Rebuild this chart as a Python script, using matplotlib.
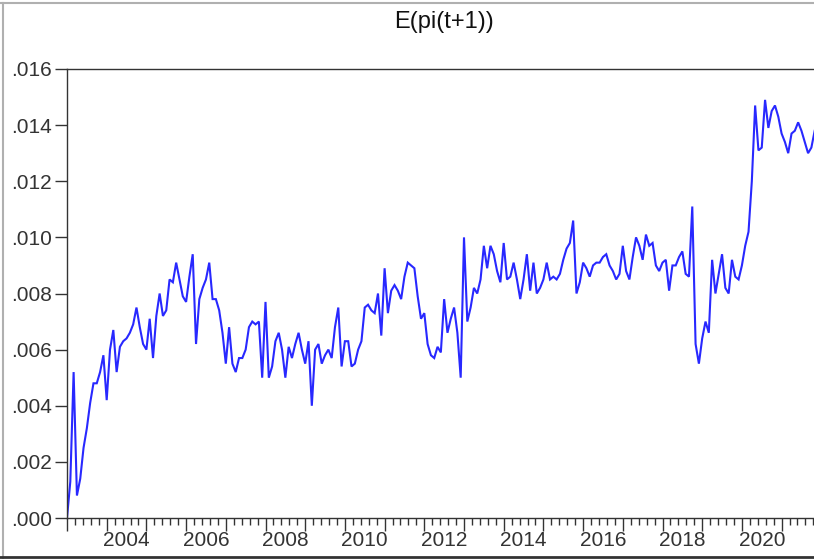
import numpy as np
import matplotlib
matplotlib.use("Agg")
import matplotlib.pyplot as plt
from matplotlib.lines import Line2D
from matplotlib.ticker import FixedLocator, MultipleLocator, FuncFormatter

# ---- data (monthly, starting 2003M01) ----
start_year = 2003
values = [
    0.0000, 0.0013, 0.0052, 0.0008, 0.0014, 0.0025, 0.0032, 0.0041, 0.0048, 0.0048, 0.0052, 0.0058,
    0.0042, 0.0060, 0.0067, 0.0052, 0.0061, 0.0063, 0.0064, 0.0066, 0.0069, 0.0075, 0.0068, 0.0062,
    0.0060, 0.0071, 0.0057, 0.0072, 0.0080, 0.0072, 0.0074, 0.0085, 0.0084, 0.0091, 0.0085, 0.0079,
    0.0077, 0.0086, 0.0094, 0.0062, 0.0078, 0.0082, 0.0085, 0.0091, 0.0078, 0.0078, 0.0074, 0.0066,
    0.0055, 0.0068, 0.0055, 0.0052, 0.0057, 0.0057, 0.0060, 0.0068, 0.0070, 0.0069, 0.0070, 0.0050,
    0.0077, 0.0050, 0.0054, 0.0063, 0.0066, 0.0060, 0.0050, 0.0061, 0.0057, 0.0062, 0.0066, 0.0060,
    0.0055, 0.0063, 0.0040, 0.0060, 0.0062, 0.0055, 0.0058, 0.0060, 0.0057, 0.0068, 0.0075, 0.0054,
    0.0063, 0.0063, 0.0054, 0.0055, 0.0060, 0.0063, 0.0075, 0.0076, 0.0074, 0.0073, 0.0080, 0.0065,
    0.0089, 0.0073, 0.0081, 0.0083, 0.0081, 0.0078, 0.0086, 0.0091, 0.0090, 0.0089, 0.0079, 0.0071,
    0.0073, 0.0062, 0.0058, 0.0057, 0.0061, 0.0059, 0.0078, 0.0066, 0.0071, 0.0075, 0.0066, 0.0050,
    0.0100, 0.0070, 0.0075, 0.0082, 0.0080, 0.0085, 0.0097, 0.0089, 0.0097, 0.0094, 0.0088, 0.0084,
    0.0098, 0.0085, 0.0086, 0.0091, 0.0085, 0.0078, 0.0085, 0.0094, 0.0081, 0.0091, 0.0080, 0.0082,
    0.0085, 0.0091, 0.0085, 0.0086, 0.0085, 0.0087, 0.0092, 0.0096, 0.0098, 0.0106, 0.0080, 0.0084,
    0.0091, 0.0089, 0.0086, 0.0090, 0.0091, 0.0091, 0.0093, 0.0094, 0.0090, 0.0088, 0.0085, 0.0087,
    0.0097, 0.0088, 0.0085, 0.0093, 0.0100, 0.0097, 0.0092, 0.0101, 0.0097, 0.0098, 0.0090, 0.0088,
    0.0091, 0.0092, 0.0081, 0.0090, 0.0090, 0.0093, 0.0095, 0.0087, 0.0086, 0.0111, 0.0062, 0.0055,
    0.0064, 0.0070, 0.0066, 0.0092, 0.0080, 0.0087, 0.0094, 0.0082, 0.0080, 0.0092, 0.0086, 0.0085,
    0.0090, 0.0097, 0.0102, 0.0120, 0.0147, 0.0131, 0.0132, 0.0149, 0.0139, 0.0145, 0.0147, 0.0143,
    0.0137, 0.0134, 0.0130, 0.0137, 0.0138, 0.0141, 0.0138, 0.0134, 0.0130, 0.0132, 0.0138,
]
year_labels = [2004, 2006, 2008, 2010, 2012, 2014, 2016, 2018, 2020]
y_ticks = [0.000, 0.002, 0.004, 0.006, 0.008, 0.010, 0.012, 0.014, 0.016]
title = "E(pi(t+1))"

t = start_year + np.arange(len(values)) / 12.0

plt.rcParams['font.family'] = ['Liberation Sans', 'DejaVu Sans']

W, H = 814, 559
fig = plt.figure(figsize=(W / 100, H / 100), dpi=100)
fig.patch.set_facecolor('white')

# axes in pixel geometry (right edge lies just beyond the image)
ax_l, ax_r, ax_t, ax_b = 67, 822, 69, 518
ax = fig.add_axes([ax_l / W, (H - ax_b) / H, (ax_r - ax_l) / W, (ax_b - ax_t) / H])

ax.plot(t, values, color='#2828ff', linewidth=1.5, solid_joinstyle='miter')

ax.set_ylim(0, 0.016)
ax.set_xlim(start_year, start_year + (ax_r - ax_l) / 39.7)

ax.yaxis.set_major_locator(FixedLocator(y_ticks))
ax.yaxis.set_major_formatter(FuncFormatter(lambda v, p: f"{v:.3f}"[1:] if v >= 0 else f"{v:.3f}"))
ax.tick_params(axis='y', direction='out', length=9, width=1, pad=2, labelsize=15,
               colors='#333333', labelcolor='#333333')

# x: long ticks at each year start, short ticks between, labels centred on the year
years = np.arange(start_year, 2023)
ax.xaxis.set_major_locator(FixedLocator(years))
ax.xaxis.set_major_formatter(FuncFormatter(lambda v, p: ""))
ax.xaxis.set_minor_locator(MultipleLocator(0.2))
ax.tick_params(axis='x', which='major', direction='out', length=9, width=1, colors='#333333')
ax.tick_params(axis='x', which='minor', direction='out', length=5, width=1, colors='#333333')
for yl in year_labels:
    ax.text(yl + 0.5, -0.00045, str(yl), ha='center', va='top', fontsize=15,
            color='#333333', transform=ax.transData, clip_on=False)

for s in ax.spines.values():
    s.set_color('#333333')
    s.set_linewidth(1.0)

fig.text(444 / W, 1 - 22 / H, title, ha='center', va='center', fontsize=17, color='#111111')

# outer window frame
fig.add_artist(Line2D([0, 1], [1 - 3 / H, 1 - 3 / H], transform=fig.transFigure, color='#b0b0b0', lw=1.5))
fig.add_artist(Line2D([3 / W, 3 / W], [0, 1 - 3 / H], transform=fig.transFigure, color='#b0b0b0', lw=1.5))
fig.add_artist(Line2D([0, 1], [2 / H, 2 / H], transform=fig.transFigure, color='#333333', lw=2))

fig.savefig("out.png", dpi=100, facecolor='white')
